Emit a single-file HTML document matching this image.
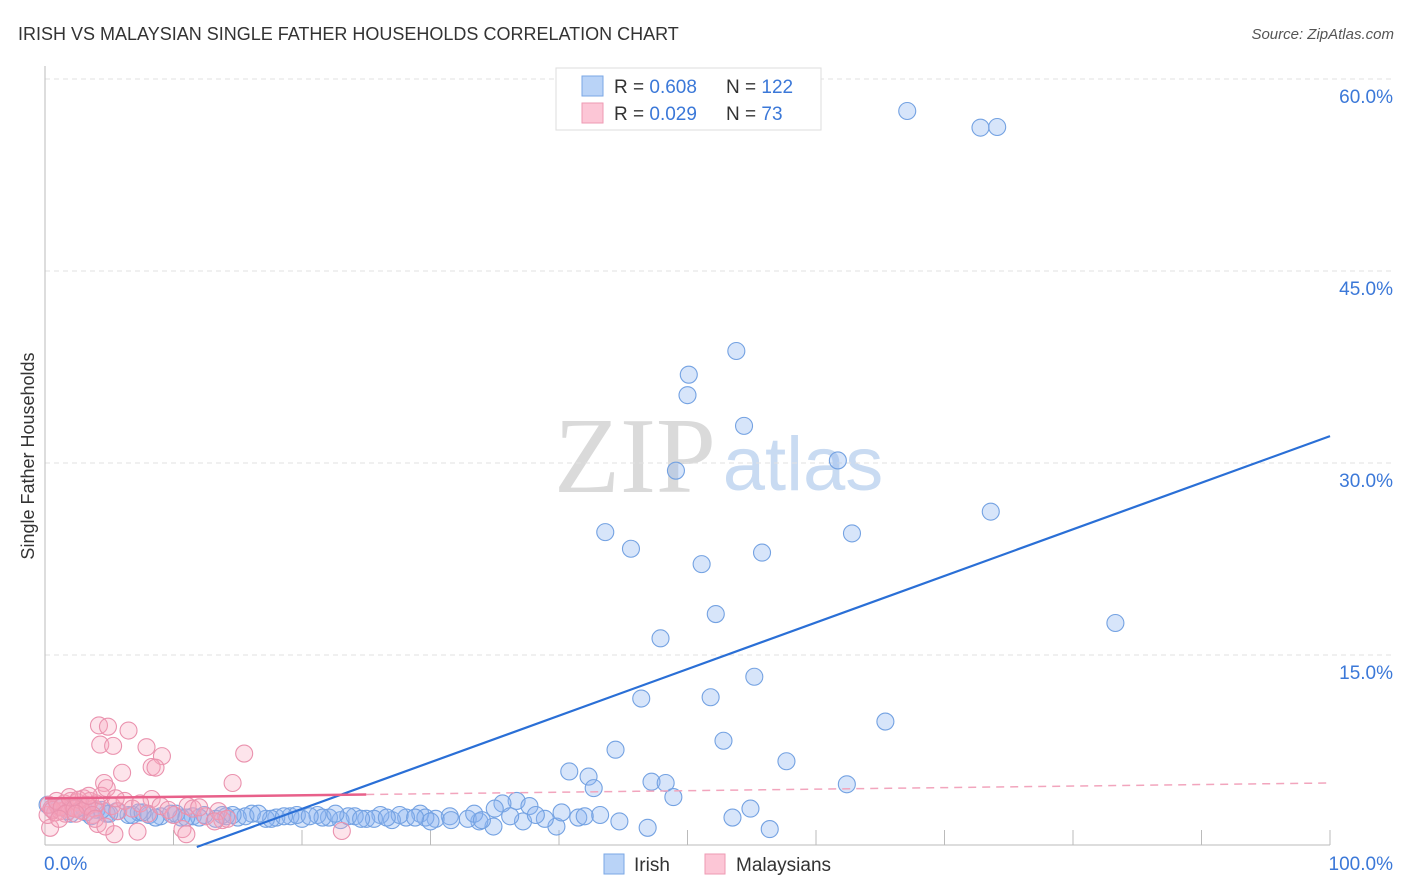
<!DOCTYPE html>
<html><head><meta charset="utf-8"><style>
body{margin:0;background:#fff;width:1406px;height:892px;overflow:hidden;font-family:"Liberation Sans",sans-serif}
svg{position:absolute;left:0;top:0}
</style></head><body>
<svg id="chart" width="1406" height="892">
<text x="18" y="40" font-size="18" fill="#333">IRISH VS MALAYSIAN SINGLE FATHER HOUSEHOLDS CORRELATION CHART</text>
<text x="1394" y="39" font-size="15" fill="#555" font-style="italic" text-anchor="end">Source: ZipAtlas.com</text>
<text x="0" y="0" transform="translate(34,456) rotate(-90)" font-size="18" fill="#333" text-anchor="middle">Single Father Households</text>
<g>
<text x="635" y="492" font-family="Liberation Serif,serif" font-size="108" fill="#dadada" text-anchor="middle">ZIP</text>
<text x="803" y="490" font-size="76" fill="#c9dbf2" text-anchor="middle">atlas</text>
</g>
<g id="grid"></g><g id="axes"></g><g id="pts"></g><g id="lines"></g>
<g>
<rect x="556" y="68" width="265" height="62" fill="#fff" stroke="#ddd"/>
<rect x="582" y="76" width="21" height="20" fill="#b9d3f7" stroke="#7aa7e6"/>
<rect x="582" y="103" width="21" height="20" fill="#fcc6d6" stroke="#ee9ab3"/>
<text x="614" y="93" font-size="19" fill="#333">R = <tspan fill="#3b78d8">0.608</tspan></text>
<text x="726" y="93" font-size="19" fill="#333">N = <tspan fill="#3b78d8">122</tspan></text>
<text x="614" y="120" font-size="19" fill="#333">R = <tspan fill="#3b78d8">0.029</tspan></text>
<text x="726" y="120" font-size="19" fill="#333">N = <tspan fill="#3b78d8"> 73</tspan></text>
</g>
<g>
<rect x="604" y="854" width="20" height="20" fill="#b9d3f7" stroke="#7aa7e6"/>
<text x="634" y="871" font-size="19" fill="#333">Irish</text>
<rect x="705" y="854" width="20" height="20" fill="#fcc6d6" stroke="#ee9ab3"/>
<text x="736" y="871" font-size="19" fill="#333">Malaysians</text>
</g>
</svg>
<script>
const yTicks=[15,30,45,60];
const yTickLabels=["15.0%","30.0%","45.0%","60.0%"];
const xTickLabels=["0.0%","100.0%"];
const irishX=[67.1,72.8,74.1,53.8,50.1,50.0,54.4,61.7,49.1,73.6,43.6,62.8,45.6,55.8,51.1,83.3,52.2,47.9,55.2,46.4,51.8,65.4,52.8,44.4,57.7,40.8,42.3,47.2,48.3,62.4,42.7,48.9,36.7,35.6,37.7,54.9,53.5,56.4,46.9,44.7,43.2,41.5,39.8,38.9,37.2,34.9,33.8,32.9,31.5,30.4,29.2,28.1,27.0,26.1,25.0,24.1,23.0,22.1,21.2,20.0,19.1,18.0,17.2,16.1,15.0,14.1,13.3,12.4,11.5,10.6,9.8,9.0,8.1,7.3,6.5,5.6,4.8,4.0,3.2,2.5,1.8,1.1,0.5,0.2,2.0,3.6,5.0,6.8,8.6,10.2,12.0,13.8,15.6,17.6,19.6,21.6,23.6,25.6,27.6,29.6,31.6,33.4,35.0,36.2,38.2,40.2,42.0,30.0,26.6,22.6,18.6,14.6,11.0,7.6,4.4,1.4,34.0,28.8,24.6,20.6,16.6,3.0];
const irishY=[57.5,56.2,56.25,38.75,36.9,35.3,32.9,30.2,29.4,26.2,24.6,24.5,23.3,23.0,22.1,17.5,18.2,16.3,13.3,11.6,11.7,9.8,8.3,7.6,6.7,5.9,5.5,5.1,5.0,4.9,4.6,3.9,3.6,3.4,3.2,3.0,2.3,1.4,1.5,2.0,2.5,2.3,1.6,2.2,2.0,1.6,2.0,2.2,2.4,2.2,2.6,2.3,2.1,2.5,2.2,2.4,2.1,2.3,2.5,2.2,2.4,2.3,2.2,2.6,2.3,2.4,2.2,2.5,2.4,2.3,2.6,2.4,2.5,2.7,2.5,2.8,2.6,2.9,2.7,3.0,2.8,3.1,3.0,3.3,2.6,2.4,2.6,2.5,2.3,2.6,2.3,2.5,2.4,2.2,2.5,2.3,2.4,2.2,2.5,2.3,2.1,2.6,3.0,2.4,2.5,2.7,2.4,2.0,2.3,2.6,2.4,2.5,2.3,2.7,2.9,3.2,2.1,2.3,2.2,2.4,2.6,3.1];
const malayX=[4.2,4.9,6.5,4.3,5.3,7.9,9.1,15.5,8.3,8.6,6.0,14.6,4.6,8.3,11.1,10.7,5.4,7.2,11.0,23.1,13.8,0.4,0.2,0.5,0.8,1.0,1.2,1.5,1.7,2.0,2.2,2.5,2.7,3.0,3.2,3.5,3.8,4.0,4.4,4.8,5.2,5.7,6.2,6.8,7.4,8.0,9.0,10.0,11.5,12.5,13.5,14.2,0.3,0.6,0.9,1.3,1.6,1.9,2.3,2.6,2.9,3.3,3.7,4.1,1.1,2.4,3.4,3.9,4.7,5.5,9.6,12.0,13.2];
const malayY=[9.5,9.4,9.1,8.0,7.9,7.8,7.1,7.3,6.25,6.2,5.8,5.0,5.0,3.75,3.2,1.4,1.0,1.2,1.0,1.25,2.1,1.5,2.5,3.0,2.7,3.2,2.8,3.4,3.0,3.6,3.1,3.5,2.9,3.8,3.3,3.6,3.0,3.4,4.0,4.6,3.2,2.8,3.6,3.0,3.4,2.6,3.2,2.5,3.0,2.4,2.8,2.2,3.3,2.9,3.6,3.1,2.6,3.9,3.0,3.7,2.8,3.2,2.5,1.8,2.2,2.6,4.0,2.2,1.6,3.8,2.9,3.1,2.0];
const irishLine=[-4.3,0.364];
const malayLine=[3.8,0.012];
const X=v=>45+v*12.85, Y=v=>847-v*12.8;
const NS="http://www.w3.org/2000/svg";
function mk(t,a,p){const e=document.createElementNS(NS,t);for(const k in a)e.setAttribute(k,a[k]);p.appendChild(e);return e;}
const grid=document.getElementById('grid'),axes=document.getElementById('axes');
yTicks.forEach((t,i)=>{
 const l=mk('line',{x1:45,x2:1394,y1:Y(t),y2:Y(t),stroke:'#e2e2e2','stroke-dasharray':'5,4'},grid);
 
 
 const tx=mk('text',{x:1393,y:Y(t)+24,'font-size':19,fill:'#3b78d8','text-anchor':'end'},axes);
 tx.textContent=yTickLabels[i];
 
 
});
const xa=mk('line',{x1:45,x2:1330,y1:845,y2:845,stroke:'#bbb'},axes);


const ya=mk('line',{x1:45,x2:45,y1:66,y2:845,stroke:'#bbb'},axes);


for(let i=1;i<=10;i++){const t=mk('line',{x1:X(i*10),x2:X(i*10),y1:845,y2:830,stroke:'#bbb'},axes);
 
 }
[[0,'start',44],[100,'end',1393]].forEach((d,i)=>{const t=mk('text',{x:d[2],y:870,'font-size':19,fill:'#3b78d8','text-anchor':d[1]},axes);t.textContent=xTickLabels[i];
 
 });
const pts=document.getElementById('pts');
irishX.forEach((x,i)=>{const c=mk('circle',{cx:X(x),cy:Y(irishY[i]),r:8.5,fill:'rgba(140,180,240,0.35)',stroke:'#74a2e2','stroke-width':1.1},pts);
 
 });
malayX.forEach((x,i)=>{const c=mk('circle',{cx:X(x),cy:Y(malayY[i]),r:8.5,fill:'rgba(248,165,190,0.3)',stroke:'#ea92ae','stroke-width':1.1},pts);
 
 });
const lines=document.getElementById('lines');
const x0=-irishLine[0]/irishLine[1];
const bl=mk('line',{x1:X(x0),y1:Y(0),x2:X(100),y2:Y(irishLine[0]+irishLine[1]*100),stroke:'#2a6fd6','stroke-width':2.2},lines);


const pd=mk('line',{x1:X(25),y1:Y(malayLine[0]+malayLine[1]*25),x2:X(100),y2:Y(malayLine[0]+malayLine[1]*100),stroke:'#f2a5bd','stroke-width':1.5,'stroke-dasharray':'8,6'},lines);


const ps=mk('line',{x1:X(0),y1:Y(malayLine[0]),x2:X(25),y2:Y(malayLine[0]+malayLine[1]*25),stroke:'#e8608a','stroke-width':2.5},lines);


</script>
</body></html>
